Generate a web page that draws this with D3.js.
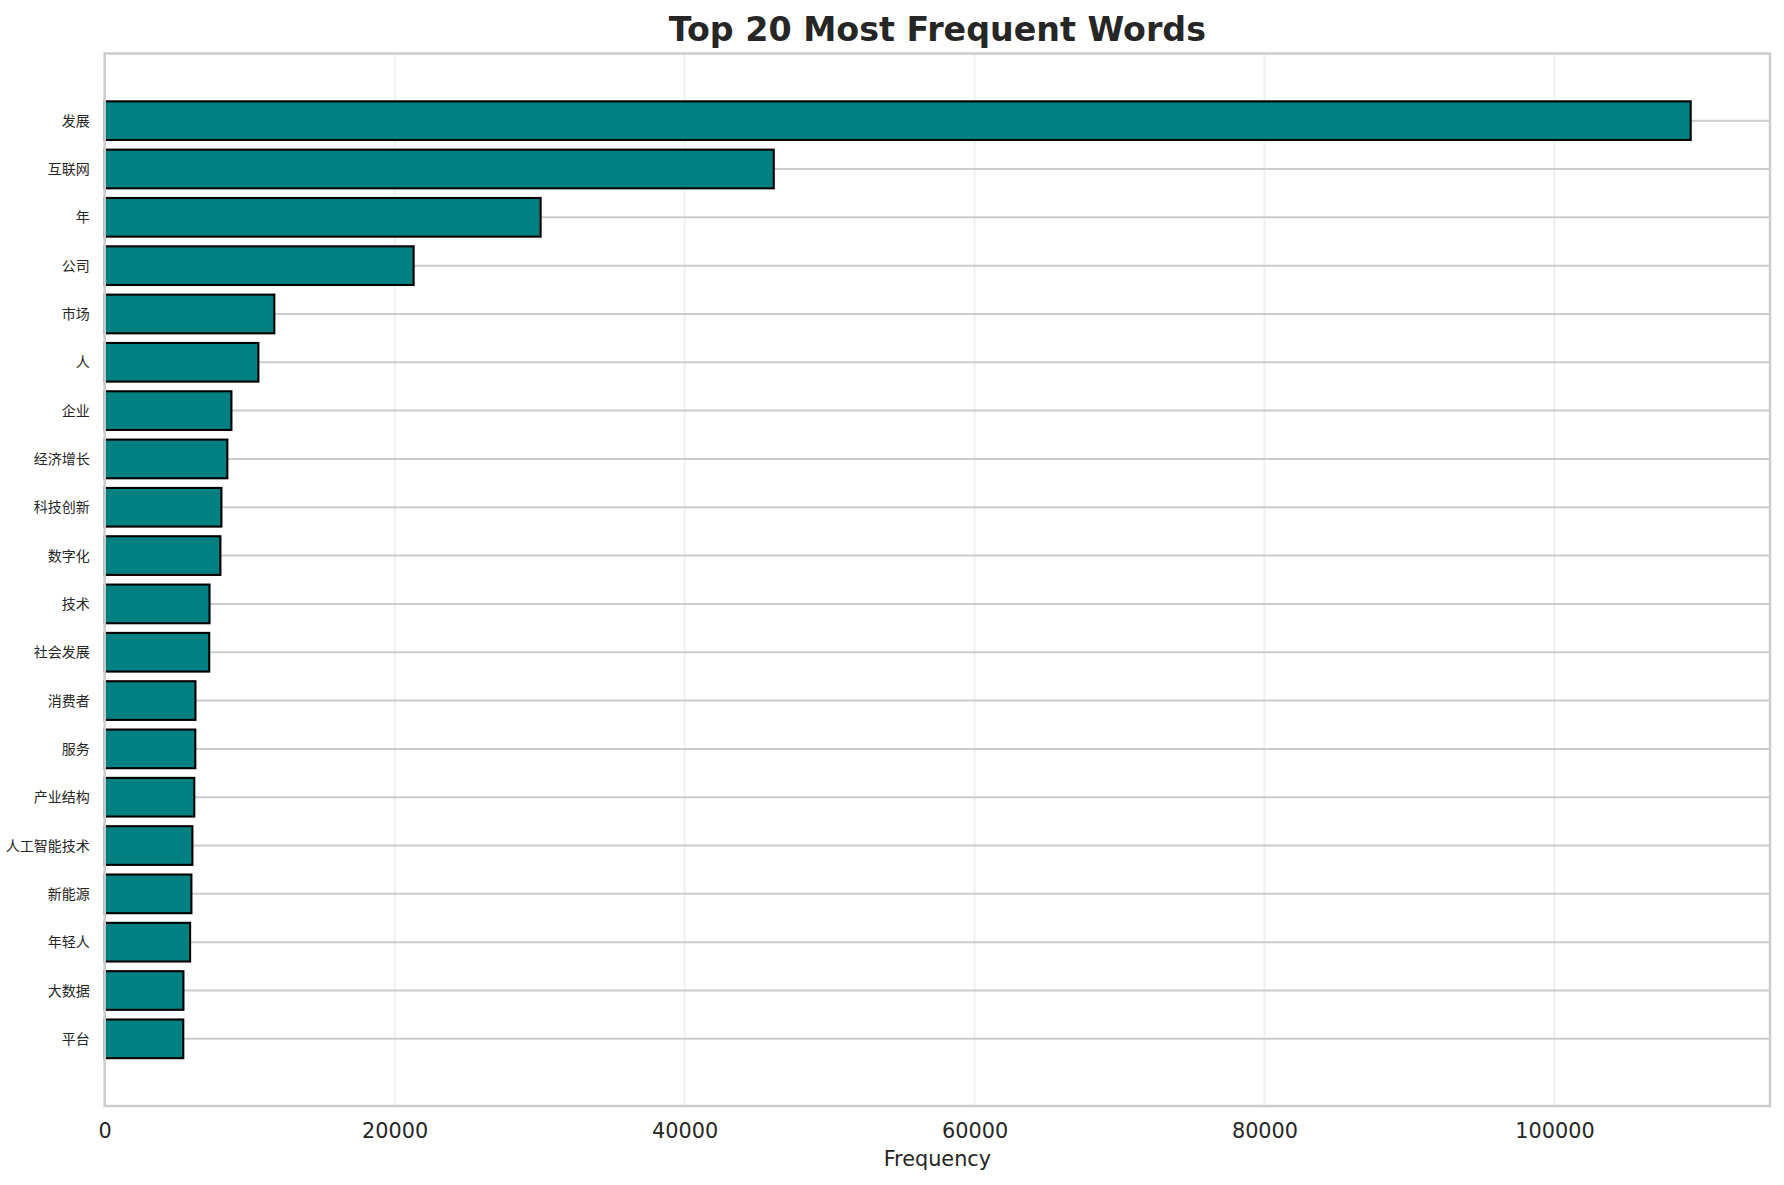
<!DOCTYPE html>
<html>
<head>
<meta charset="utf-8">
<script src="https://d3js.org/d3.v7.min.js"></script>
<style>
  body { margin: 0; background: #ffffff; }
  svg { display: block; }
</style>
</head>
<body>
<svg width="1784" height="1185"></svg>
<script>
var svg = d3.select('svg');

// words, top to bottom
var words = ["发展", "互联网", "年", "公司", "市场", "人", "企业", "经济增长", "科技创新", "数字化",
    "技术", "社会发展", "消费者", "服务", "产业结构", "人工智能技术", "新能源", "年轻人", "大数据", "平台"];

// how often each word shows up
var counts = [109400, 46150, 30070, 21310, 11700, 10600, 8740, 8460, 8050, 7980,
    7230, 7210, 6260, 6250, 6180, 6050, 5980, 5890, 5430, 5420];

var xTicks = [0, 20000, 40000, 60000, 80000, 100000];

// plot box (note: "top" is taken by window.top, so use other names)
var plotLeft = 104.7, plotRight = 1770, plotTop = 53.5, plotBottom = 1106;

// matplotlib style 5% headroom on the right
var x = d3.scaleLinear()
    .domain([0, d3.max(counts) * 1.05])
    .range([plotLeft, plotRight]);

var y = d3.scaleBand()
    .domain(words)
    .range([plotTop, plotBottom])
    .paddingInner(0.2)
    .paddingOuter(0.99);

// x grid, faint
svg.append('g')
    .selectAll('line')
    .data(xTicks)
    .enter()
    .append('line')
    .attr('x1', function(d){ return x(d); })
    .attr('x2', function(d){ return x(d); })
    .attr('y1', plotTop)
    .attr('y2', plotBottom)
    .attr('stroke', '#cccccc')
    .attr('stroke-opacity', 0.3)
    .attr('stroke-width', 2);

// y grid through every bar centre
svg.append('g')
    .selectAll('line')
    .data(words)
    .enter()
    .append('line')
    .attr('x1', plotLeft)
    .attr('x2', plotRight)
    .attr('y1', function(d){ return y(d) + y.bandwidth() / 2; })
    .attr('y2', function(d){ return y(d) + y.bandwidth() / 2; })
    .attr('stroke', '#cccccc')
    .attr('stroke-width', 2);

// bars
svg.append('g')
    .selectAll('rect')
    .data(counts)
    .enter()
    .append('rect')
    .attr('x', x(0))
    .attr('y', function(d, i){ return y(words[i]); })
    .attr('width', function(d){ return x(d) - x(0); })
    .attr('height', y.bandwidth())
    .attr('fill', '#008080')
    .attr('stroke', '#000000')
    .attr('stroke-width', 2.1);

// frame
svg.append('rect')
    .attr('x', plotLeft)
    .attr('y', plotTop)
    .attr('width', plotRight - plotLeft)
    .attr('height', plotBottom - plotTop)
    .attr('fill', 'none')
    .attr('stroke', '#cccccc')
    .attr('stroke-width', 2.5);

// x axis labels
var xAxis = d3.axisBottom(x)
    .tickValues(xTicks)
    .tickSize(0)
    .tickPadding(0)
    .tickFormat(d3.format('d'));

var gx = svg.append('g')
    .attr('transform', 'translate(0,' + plotBottom + ')')
    .call(xAxis);
gx.select('.domain').remove();
gx.selectAll('text')
    .attr('dy', null)
    .attr('y', 31.5)
    .attr('fill', '#262626')
    .style('font-family', 'DejaVu Sans')
    .style('font-size', '20.8px');

// y axis labels
var yAxis = d3.axisLeft(y)
    .tickSize(0)
    .tickPadding(15);

var gy = svg.append('g')
    .attr('transform', 'translate(' + plotLeft + ',0)')
    .call(yAxis);
gy.select('.domain').remove();
gy.selectAll('text')
    .attr('dy', '0.36em')
    .attr('fill', '#262626')
    .style('font-family', '"Noto Sans CJK SC", "DejaVu Sans"')
    .style('font-size', '14px');

svg.append('text')
    .attr('x', (plotLeft + plotRight) / 2)
    .attr('y', 1166)
    .attr('text-anchor', 'middle')
    .attr('fill', '#262626')
    .style('font-family', 'DejaVu Sans')
    .style('font-size', '20.8px')
    .text('Frequency');

svg.append('text')
    .attr('x', (plotLeft + plotRight) / 2)
    .attr('y', 41)
    .attr('text-anchor', 'middle')
    .attr('fill', '#262626')
    .style('font-family', 'DejaVu Sans')
    .style('font-weight', 'bold')
    .style('font-size', '33.3px')
    .text('Top 20 Most Frequent Words');
</script>
</body>
</html>
